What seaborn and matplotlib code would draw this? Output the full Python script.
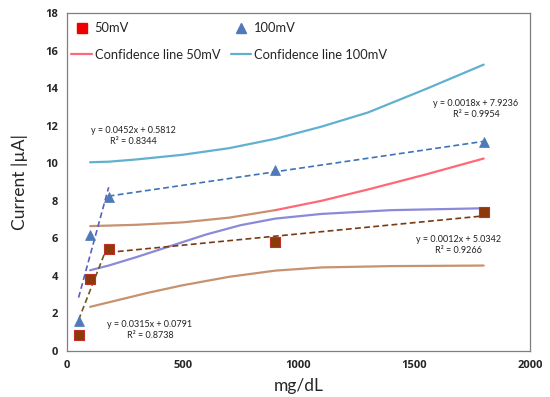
import numpy as np
import pandas as pd
import seaborn as sns
import matplotlib.pyplot as plt
from matplotlib.lines import Line2D

# measured points
conc = [50, 100, 180, 900, 1800]
cur_50mv = [0.85, 3.85, 5.45, 5.8, 7.4]
cur_100mv = [1.6, 6.2, 8.2, 9.65, 11.15]

# confidence lines
conf50_up_x = [100, 300, 500, 700, 900, 1100, 1300, 1550, 1800]
conf50_up_y = [6.65, 6.72, 6.85, 7.1, 7.5, 8.0, 8.6, 9.4, 10.25]
conf50_lo_x = [100, 200, 350, 500, 700, 900, 1100, 1400, 1800]
conf50_lo_y = [2.35, 2.65, 3.1, 3.5, 3.95, 4.28, 4.45, 4.52, 4.55]
conf100_up_x = [100, 180, 300, 500, 700, 900, 1100, 1300, 1550, 1800]
conf100_up_y = [10.05, 10.08, 10.2, 10.45, 10.8, 11.3, 11.95, 12.7, 13.95, 15.25]
conf100_lo_x = [100, 180, 300, 450, 600, 750, 900, 1100, 1400, 1800]
conf100_lo_y = [4.3, 4.55, 5.0, 5.6, 6.2, 6.7, 7.05, 7.3, 7.5, 7.6]

# linear trend lines (slope, intercept, x range) from the equations
fits = {
    "50mV_low": (0.0315, 0.0791, 50, 180),
    "50mV_high": (0.0012, 5.0342, 180, 1800),
    "100mV_low": (0.0452, 0.5812, 50, 180),
    "100mV_high": (0.0018, 7.9236, 180, 1800),
}
fit_labels = [
    ("y = 0.0452x + 0.5812\nR² = 0.8344", 285, 11.45),
    ("y = 0.0018x + 7.9236\nR² = 0.9954", 1767, 12.9),
    ("y = 0.0012x + 5.0342\nR² = 0.9266", 1690, 5.65),
    ("y = 0.0315x + 0.0791\nR² = 0.8738", 358, 1.1),
]

sns.set_style("white")
plt.rcParams['font.family'] = ['Lato', 'DejaVu Sans']

fig = plt.figure(figsize=(5.5, 3.97), dpi=100)
ax = fig.add_axes([0.1218, 0.1159, 0.8418, 0.8514])

# confidence lines
up50 = pd.DataFrame({"x": conf50_up_x, "y": conf50_up_y})
sns.lineplot(data=up50[up50.x <= 900], x="x", y="y", color="#c8916f", lw=1.6, ax=ax)
sns.lineplot(data=up50[up50.x >= 900], x="x", y="y", color="#ff6877", lw=1.6, ax=ax)
sns.lineplot(x=conf50_lo_x, y=conf50_lo_y, color="#c8916f", lw=1.6, ax=ax)
sns.lineplot(x=conf100_up_x, y=conf100_up_y, color="#62b0d0", lw=1.6, ax=ax)
sns.lineplot(x=conf100_lo_x, y=conf100_lo_y, color="#8a8ad8", lw=1.6, ax=ax)

# trend lines
fit_colors = {"50mV_low": "#6b5a1a", "50mV_high": "#7a3a10",
              "100mV_low": "#5a60c0", "100mV_high": "#3d73b8"}
for key, (m, b, x0, x1) in fits.items():
    xs = np.array([x0, x1])
    ax.plot(xs, m * xs + b, ls=(0, (3.5, 2)), lw=1.2, color=fit_colors[key])

# points
sns.scatterplot(x=conc, y=cur_100mv, marker="^", s=50, color="#4f79b9",
                edgecolor="#4f79b9", ax=ax, zorder=5)
sns.scatterplot(x=conc, y=cur_50mv, marker="s", s=60, color="#8b3a08",
                edgecolor="#c0302a", linewidth=0.8, ax=ax, zorder=6)

for txt, x, y in fit_labels:
    ax.text(x, y, txt, fontsize=6.5, ha="center", va="center", color="#222222",
            linespacing=1.3)

ax.set_xlim(0, 2000)
ax.set_ylim(0, 18)
ax.set_xticks(range(0, 2001, 500))
ax.set_yticks(range(0, 19, 2))
ax.tick_params(axis="both", direction="inout", length=5, width=0.8,
               color="#555555", labelsize=8, pad=4)
for lab in ax.get_xticklabels() + ax.get_yticklabels():
    lab.set_fontfamily("Open Sans")
    lab.set_fontweight("bold")
for sp in ax.spines.values():
    sp.set_color("#7f7f7f")
    sp.set_linewidth(0.9)

ax.set_xlabel("mg/dL", fontsize=12.5, labelpad=5)
ax.set_ylabel("Current |µA|", fontsize=12.5, labelpad=12)

handles = [
    Line2D([], [], marker="s", ls="none", color="#ee0000", markersize=6.5),
    Line2D([], [], color="#ff6877", lw=1.6),
    Line2D([], [], marker="^", ls="none", color="#4f79b9", markersize=6.5),
    Line2D([], [], color="#62b0d0", lw=1.6),
]
labels = ["50mV", "Confidence line 50mV", "100mV", "Confidence line 100mV"]
ax.legend(handles, labels, ncol=2, loc="upper left", bbox_to_anchor=(-0.01, 1.0),
          frameon=False, fontsize=9.3, handlelength=1.6, handletextpad=0.2,
          columnspacing=0.8, labelspacing=1.15, borderaxespad=0.3)

fig.savefig("out.png", dpi=100)
